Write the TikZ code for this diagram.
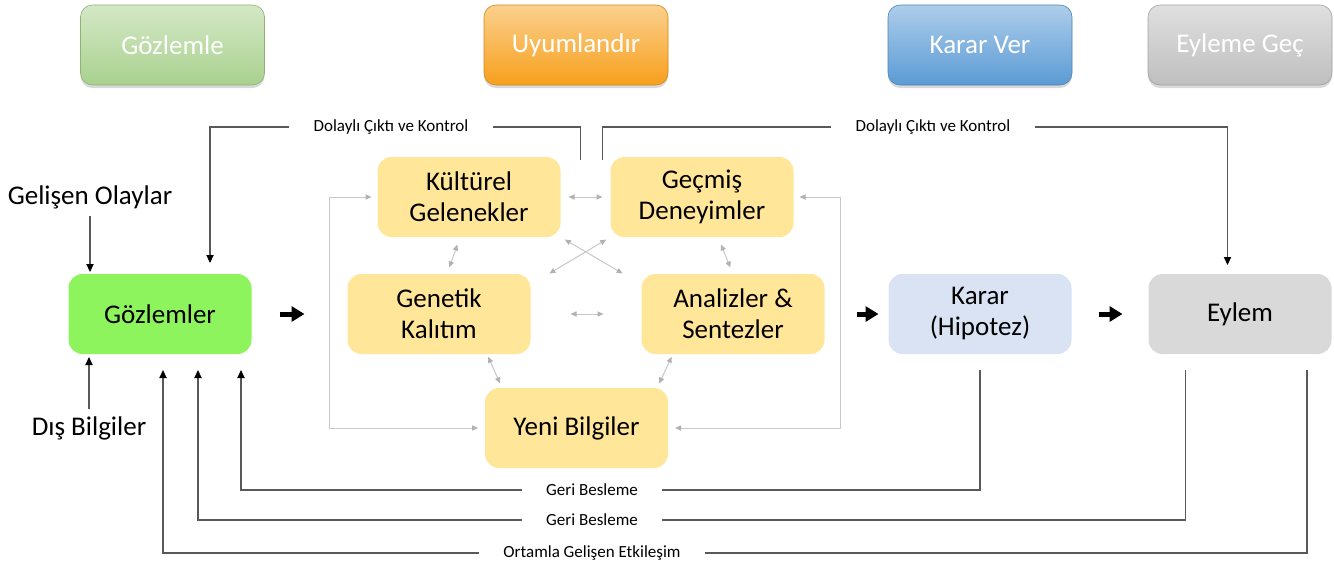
\documentclass[tikz,border=0pt]{standalone}
\usepackage{fontspec}
\setmainfont{Carlito}
\usetikzlibrary{positioning,arrows.meta,shadows}

\definecolor{obsgreen}{HTML}{8EF45E}
\definecolor{adaptyellow}{HTML}{FFE699}
\definecolor{decblue}{HTML}{DAE3F3}
\definecolor{actgray}{HTML}{D9D9D9}
\definecolor{hgreen}{HTML}{A9D18E}
\definecolor{horange}{HTML}{F7A01C}
\definecolor{hblue}{HTML}{5B9BD5}
\definecolor{hgray}{HTML}{BFBFBF}

\tikzset{
  box/.style={rectangle, rounded corners=7pt, minimum width=91.5pt, minimum height=40pt,
    inner sep=0pt, outer sep=0pt, align=center, font=\fontsize{13.5}{15.5}\selectfont},
  head/.style={box, rounded corners=6pt, minimum width=92pt, text=white,
    top color=#1!50!white, bottom color=#1, draw=#1!85!black, line width=0.3pt,
    drop shadow={shadow xshift=0pt, shadow yshift=-1.5pt, opacity=0.3}},
  side/.style={font=\fontsize{13.5}{16}\selectfont},
  lbl/.style={fill=white, inner xsep=12pt, inner ysep=1pt, font=\fontsize{8.5}{10}\selectfont},
  fbline/.style={draw=black!65, line width=0.6pt},
  fb/.style={fbline, -{Triangle[length=4pt,width=3.6pt,color=black]}},
  dbl/.style={draw=black!22, line width=0.5pt,
    {Triangle[length=3pt,width=2.6pt,color=black!30]}-{Triangle[length=3pt,width=2.6pt,color=black!30]}},
  bigarrow/.style={line width=2.5pt, -{Triangle[length=6.5pt,width=7.5pt]}}
}

\begin{document}
\begin{tikzpicture}[x=0.5pt, y=-0.5pt]
  \useasboundingbox (0,0) rectangle (1334,569);

  % phase headers
  \node[head=hgreen]  (h1) at (172.5,45) {Gözlemle};
  \node[head=horange] (h2) at (576,45)   {Uyumlandır};
  \node[head=hblue]   (h3) at (980,45)   {Karar Ver};
  \node[head=hgray]   (h4) at (1240,45)  {Eyleme Geç};

  % main row
  \node[box, fill=obsgreen] (goz) at (160,314) {Gözlemler};
  \node[box, fill=adaptyellow] (gen) [right=48pt of goz] {Genetik\\Kalıtım};
  \node[box, fill=adaptyellow] (ana) [right=55.5pt of gen] {Analizler \&\\Sentezler};
  \node[box, fill=decblue] (kar) [right=32pt of ana] {Karar\\(Hipotez)};
  \node[box, fill=actgray] (eyl) [right=38.5pt of kar] {Eylem};
  \node[box, fill=adaptyellow] (kul) [above=18.5pt of gen, xshift=15pt] {Kültürel\\Gelenekler};
  \node[box, fill=adaptyellow] (gec) [right=25pt of kul] {Geçmiş\\Deneyimler};
  \node[box, fill=adaptyellow] (yen) [below=17pt of gen, xshift=68.75pt] {Yeni Bilgiler};

  % inputs
  \node[side] (gel) at (90,197) {Gelişen Olaylar};
  \node[side] (dis) at (89,428) {Dış Bilgiler};
  \draw[fb, shorten >=1pt] (gel.south) -- (gel.south |- goz.north);
  \draw[fb, shorten >=1.5pt] (dis.north) -- (dis.north |- goz.south);

  % big arrows
  \draw[bigarrow, shorten <=14pt, shorten >=21.5pt] (goz.east) -- (gen.west);
  \draw[bigarrow, shorten <=16pt, shorten >=5pt] (ana.east) -- (kar.west);
  \draw[bigarrow, shorten <=13.5pt, shorten >=13pt] (kar.east) -- (eyl.west);

  % inner links
  \draw[dbl, shorten <=4pt, shorten >=4pt] (kul.east) -- (gec.west);
  \draw[dbl, shorten <=20pt, shorten >=19pt] (gen.east) -- (ana.west);
  \draw[dbl, shorten <=4pt, shorten >=3.5pt] ([xshift=-4.5pt]kul.south) -- ([xshift=4pt]gen.north);
  \draw[dbl, shorten <=4pt, shorten >=3.5pt] ([xshift=8pt]gec.south) -- (ana.north);
  \draw[dbl, shorten <=2.5pt, shorten >=0.5pt] (kul.south east) -- ([xshift=-9pt]ana.north west);
  \draw[dbl, shorten <=2.5pt, shorten >=0.5pt] (gec.south west) -- ([xshift=9pt]gen.north east);
  \draw[dbl, shorten <=1.5pt, shorten >=2.5pt] ([xshift=24pt]gen.south) -- ([xshift=8.5pt]yen.north west);
  \draw[dbl, shorten <=1.5pt, shorten >=2.5pt] ([xshift=-30pt]ana.south) -- ([xshift=-5.5pt]yen.north east);
  \draw[dbl, shorten <=3pt, shorten >=3.5pt] (kul.west) -- ++(-24pt,0) |- (yen.west);
  \draw[dbl, shorten <=3pt, shorten >=3.5pt] (gec.east) -- ++(23.5pt,0) |- (yen.east);

  % indirect output and control
  \coordinate (ko1) at ([xshift=10pt,yshift=-1.5pt]kul.north east);
  \coordinate (ko2) at ([xshift=-4pt,yshift=-1.5pt]gec.north west);
  \node[lbl] (dk1) at (391,127) {Dolaylı Çıktı ve Kontrol};
  \node[lbl] (dk2) at (933,127) {Dolaylı Çıktı ve Kontrol};
  \draw[fbline] (ko1) |- (dk1);
  \draw[fb, shorten >=5.5pt] (dk1) -| ([xshift=25pt]goz.north);
  \draw[fbline] (ko2) |- (dk2);
  \draw[fb, shorten >=4.5pt] (dk2) -| ([xshift=-6.25pt]eyl.north);

  % feedback
  \node[lbl] (gb1) at (592,490) {Geri Besleme};
  \node[lbl] (gb2) at (592,520) {Geri Besleme};
  \node[lbl] (oge) at (592,553) {Ortamla Gelişen Etkileşim};
  \draw[fbline] ([yshift=-8pt]kar.south) |- (gb1);
  \draw[fb] (gb1) -| ([xshift=40.5pt,yshift=-8pt]goz.south);
  \draw[fbline] ([xshift=-27.25pt,yshift=-8pt]eyl.south) |- (gb2);
  \draw[fb] (gb2) -| ([xshift=19pt,yshift=-8pt]goz.south);
  \draw[fbline] ([xshift=33.5pt,yshift=-8pt]eyl.south) |- (oge);
  \draw[fb] (oge) -| ([xshift=1.5pt,yshift=-8pt]goz.south);
\end{tikzpicture}
\end{document}
